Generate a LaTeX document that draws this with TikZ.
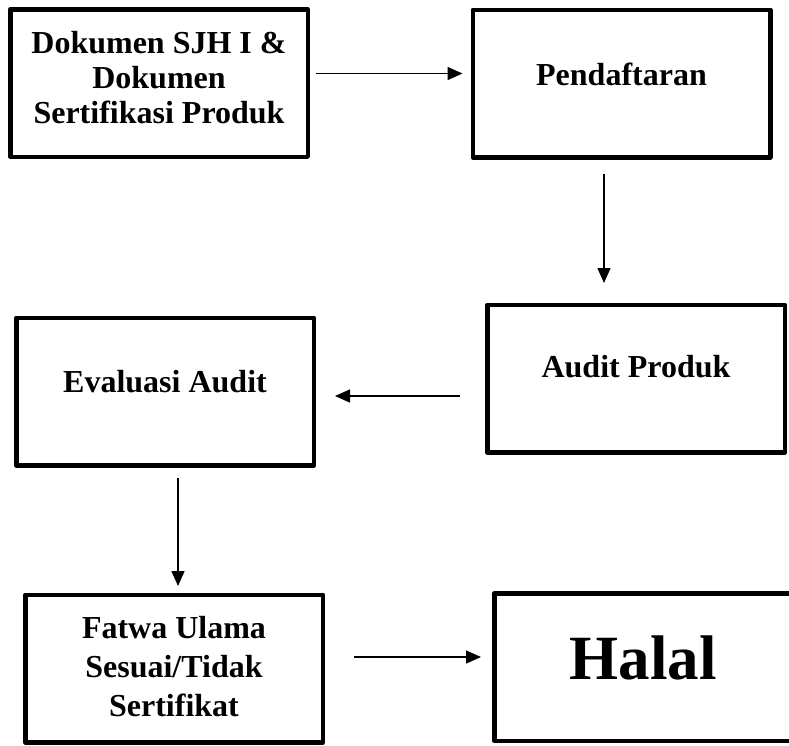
\documentclass[tikz,border=0pt]{standalone}
\usepackage{fontspec}
\setmainfont{Liberation Serif}
\usetikzlibrary{arrows.meta}

\begin{document}
\begin{tikzpicture}[x=1pt, y=-1pt,
        box/.style={draw, line width=4.5pt, line join=round, minimum width=297.5pt, minimum height=147.5pt, inner sep=0pt},
        txt/.style={font=\bfseries\fontsize{32}{35}\selectfont, align=center},
        arr/.style={-{Triangle[length=15pt, width=13pt]}, line width=1.5pt}]
            \useasboundingbox (0,0) rectangle (789,745);

            % Boxes
            \node[box, label={[txt, yshift=5pt]center:{Dokumen SJH I \&\\Dokumen\\Sertifikasi Produk}}] (dok) at (159,83) {};
            \node[box, label={[txt, yshift=9pt]center:Pendaftaran}] (pend) at (621.5,83.5) {};
            \node[box, label={[txt, yshift=11.5pt]center:Audit Produk}] (aud) at (636,378.5) {};
            \node[box, label={[txt, yshift=10pt]center:Evaluasi Audit}] (eva) at (165,391.5) {};
            \node[box, label={[txt, font=\bfseries\fontsize{32}{39}\selectfont, yshift=1.5pt]center:{Fatwa Ulama\\Sesuai/Tidak\\Sertifikat}}] (fat) at (174,668.5) {};
            \node[box, label={[txt, font=\bfseries\fontsize{63}{70}\selectfont, yshift=9pt]center:Halal}] (hal) at (643,667) {};

            % Arrows
            \draw[arr, shorten <=6pt, shorten >=8pt] ([yshift=9.5pt]dok.east) -- ([yshift=9.5pt]dok.east -| pend.west);
            \draw[arr, shorten <=14.5pt, shorten >=19.5pt] ([xshift=-17.5pt]pend.south) -- ([xshift=-17.5pt]pend.south |- aud.north);
            \draw[arr, shorten <=25pt, shorten >=19pt] ([yshift=-17.5pt]aud.west) -- ([yshift=-17.5pt]aud.west -| eva.east);
            \draw[arr, shorten <=10.5pt, shorten >=6.5pt] ([xshift=13pt]eva.south) -- ([xshift=13pt]eva.south |- fat.north);
            \draw[arr, shorten <=29pt, shorten >=11pt] ([yshift=11.5pt]fat.east) -- ([yshift=11.5pt]fat.east -| hal.west);
        \end{tikzpicture}
\end{document}
